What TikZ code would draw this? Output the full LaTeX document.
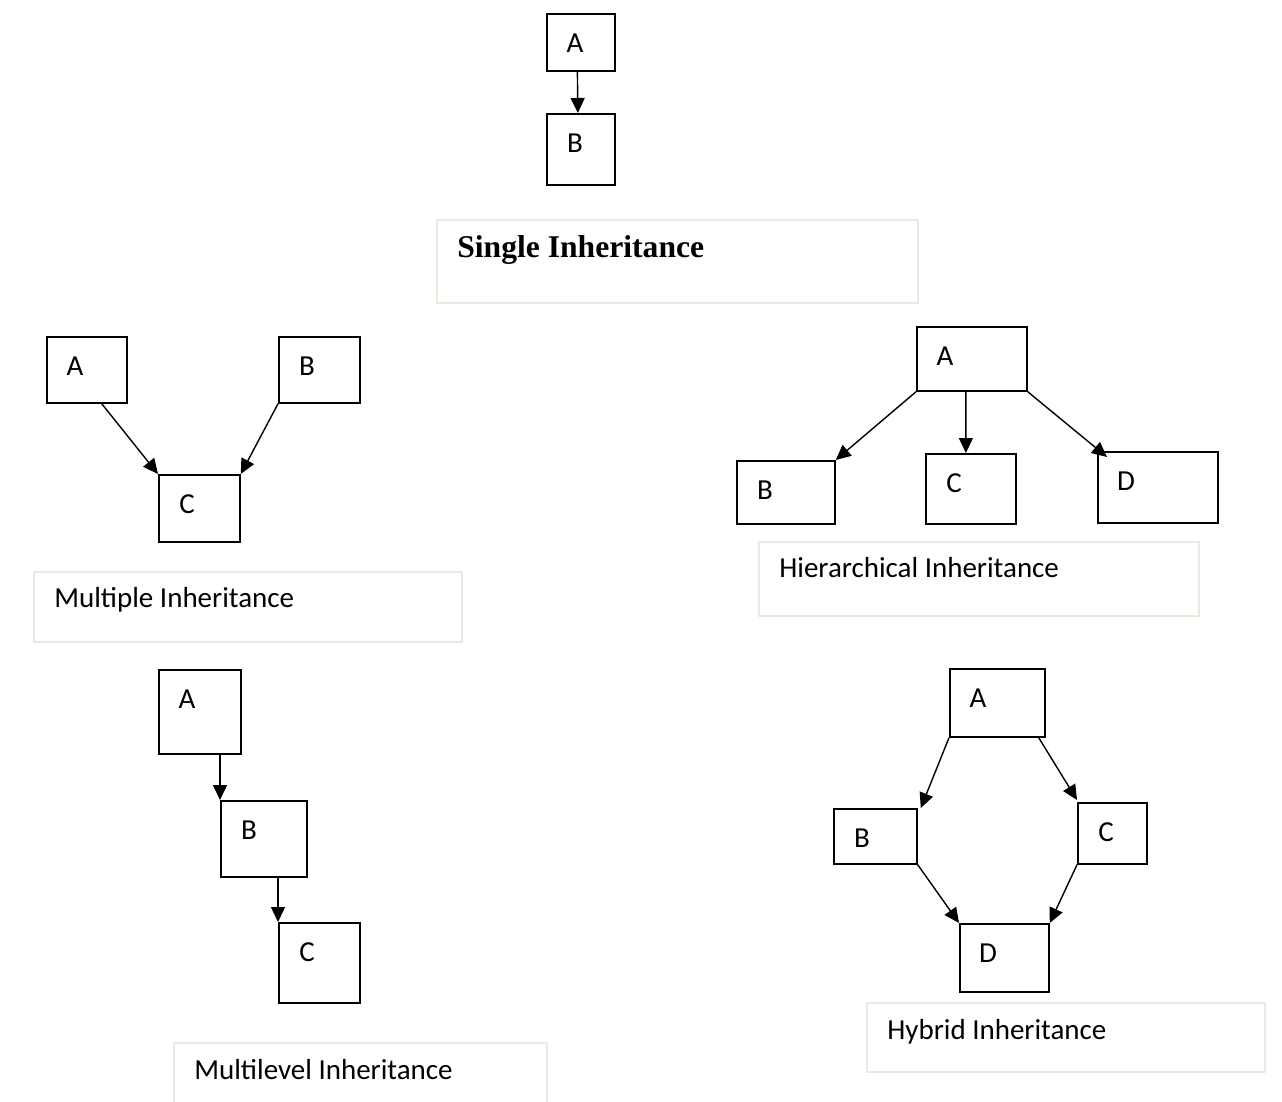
\documentclass[tikz,border=0pt]{standalone}
\usepackage{fontspec}
\setmainfont{Carlito}
\newfontfamily\titlefont{Liberation Serif}
\usetikzlibrary{arrows.meta}
\definecolor{capline}{RGB}{236,233,222}

\begin{document}
\begin{tikzpicture}[x=0.02cm, y=-0.02cm,
  every node/.style={font=\fontsize{16.5}{20}\selectfont},
  box/.style 2 args={draw, line width=1pt, anchor=north west, inner sep=0pt, minimum width=#1*0.02cm, minimum height=#2*0.02cm},
  letter/.style={anchor=center, inner sep=0pt, xshift=0.58cm, yshift=-0.6cm},
  capbox/.style 2 args={draw=capline, line width=1pt, anchor=north west, inner sep=0pt, minimum width=#1*0.02cm, minimum height=#2*0.02cm},
  captext/.style={anchor=base west, inner sep=0pt, xshift=0.42cm, yshift=-0.74cm},
  arr/.style={line width=0.8pt, -{Triangle[length=0.3cm, width=0.28cm]}}]
\useasboundingbox (0,0) rectangle (1282,1102);

% Single
\node[box={68}{57}, label={[letter]north west:A}] (sA) at (546,13) {};
\node[box={68}{71}, label={[letter]north west:B}] (sB) at (546,113) {};
\node[capbox={481}{83}, label={[captext, yshift=-0.04cm, font=\titlefont\bfseries\fontsize{18}{22}\selectfont]north west:Single Inheritance}] (capS) at (436,219) {};
\draw[arr] ([xshift=-0.07cm]sA.south) -- ([xshift=-0.06cm]sB.north);

% Multiple
\node[box={80}{66}, label={[letter]north west:A}] (mA) at (46,336) {};
\node[box={81}{66}, label={[letter]north west:B}] (mB) at (278,336) {};
\node[box={81}{67}, label={[letter]north west:C}] (mC) at (158,474) {};
\node[capbox={428}{70}, label={[captext]north west:Multiple Inheritance}] (capM) at (33,571) {};
\draw[arr] ([xshift=-0.52cm]mA.south east) -- (mC.north west);
\draw[arr] (mB.south west) -- (mC.north east);

% Hierarchical
\node[box={110}{64}, label={[letter]north west:A}] (hA) at (916,326) {};
\node[box={98}{63}, label={[letter]north west:B}] (hB) at (736,460) {};
\node[box={90}{70}, label={[letter]north west:C}] (hC) at (925,453) {};
\node[box={120}{71}, label={[letter]north west:D}] (hD) at (1097,451) {};
\node[capbox={440}{74}, label={[captext]north west:Hierarchical Inheritance}] (capH) at (758,541) {};
\draw[arr] (hA.south west) -- (hB.north east);
\draw[arr] ([xshift=-0.12cm]hA.south) -- ([xshift=-0.1cm]hC.north);
\draw[arr] (hA.south east) -- ([shift={(0.2cm,-0.12cm)}]hD.north west);

% Multilevel
\node[box={82}{84}, label={[letter]north west:A}] (lA) at (158,669) {};
\node[box={86}{76}, label={[letter]north west:B}] (lB) at (220,800) {};
\node[box={81}{80}, label={[letter]north west:C}] (lC) at (278,922) {};
\node[capbox={373}{75}, label={[captext]north west:Multilevel Inheritance}] (capL) at (173,1042) {};
\draw[arr] (lB.north west |- lA.south) -- (lB.north west);
\draw[arr] (lC.north west |- lB.south) -- (lC.north west);

% Hybrid
\node[box={95}{68}, label={[letter]north west:A}] (yA) at (949,668) {};
\node[box={83}{55}, label={[letter]north west:B}] (yB) at (833,808) {};
\node[box={69}{61}, label={[letter]north west:C}] (yC) at (1077,802) {};
\node[box={89}{68}, label={[letter]north west:D}] (yD) at (959,923) {};
\node[capbox={398}{69}, label={[captext]north west:Hybrid Inheritance}] (capY) at (866,1002) {};
\draw[arr] (yA.south west) -- ([xshift=0.06cm]yB.north east);
\draw[arr] ([xshift=-0.14cm]yA.south east) -- ([yshift=0.04cm]yC.north west);
\draw[arr] (yB.south east) -- (yD.north west);
\draw[arr] (yC.south west) -- (yD.north east);
\end{tikzpicture}
\end{document}
